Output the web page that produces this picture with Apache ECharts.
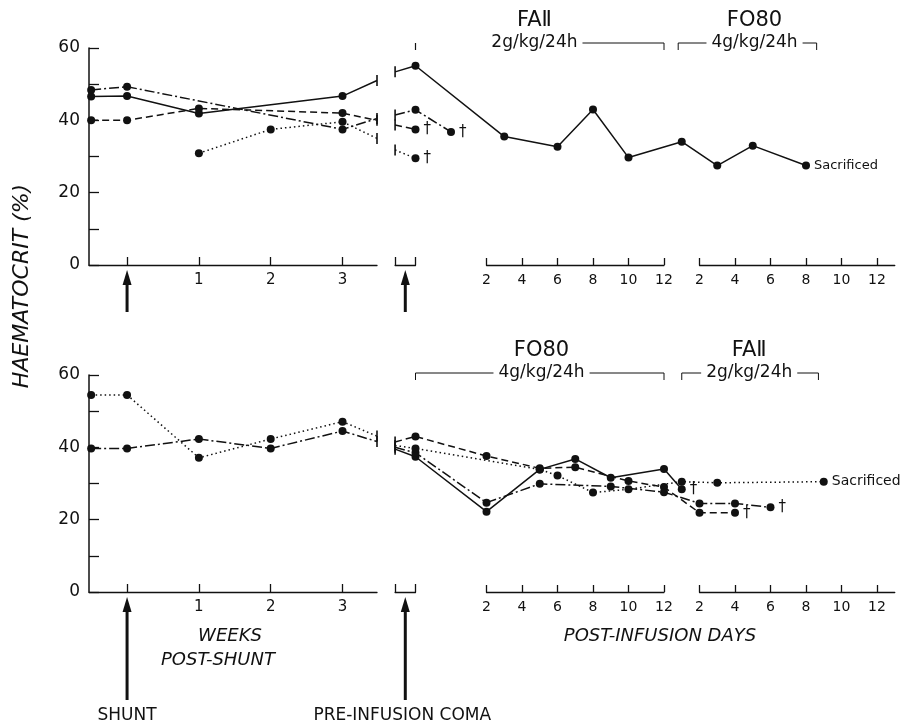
<!DOCTYPE html>
<html>
<head>
<meta charset="utf-8">
<title>Haematocrit</title>
<script src="https://cdn.jsdelivr.net/npm/echarts@6/dist/echarts.min.js"></script>
<style>
  html, body { margin: 0; padding: 0; background: #fff; }
  #chart { width: 912px; height: 728px; }
</style>
</head>
<body>
<div id="chart"></div>
<script>
// weeks post-shunt: -0.5 = pre-shunt baseline, 3.48 = axis break
var topWeekSolid   = [[-0.5, 46.6], [0, 46.7], [1, 41.9], [3, 46.7], [3.48, 51]];
var topWeekDashDot = [[-0.5, 48.4], [0, 49.3], [3, 37.5], [3.48, 40.5]];
var topWeekDashed  = [[-0.5, 40], [0, 40], [1, 43.3], [3, 42], [3.48, 40]];
var topWeekDotted  = [[1, 30.9], [2, 37.5], [3, 39.6], [3.48, 35]];

// post-infusion days on one running scale: -3.15 = axis break, -2 = pre-infusion coma,
// 0..12 first agent, 12..24 second agent
var topDaySolid   = [[-3.15, 53.4], [-2, 55.1], [3, 35.5], [6, 32.7], [8, 43], [10, 29.7], [13, 34.1], [15, 27.5], [17, 33], [20, 27.5]];
var topDayDashDot = [[-3.15, 41.5], [-2, 42.9], [0, 36.8]];
var topDayDashed  = [[-3.15, 38.7], [-2, 37.5]];
var topDayDotted  = [[-3.15, 31.8], [-2, 29.5]];

var botWeekDotted  = [[-0.5, 54.5], [0, 54.5], [1, 37.1], [2, 42.3], [3, 47.1], [3.48, 43.1]];
var botWeekDashDot = [[-0.5, 39.7], [0, 39.7], [1, 42.3], [2, 39.7], [3, 44.5], [3.48, 41.6]];

var botDaySolid   = [[-3.15, 39.5], [-2, 37.4], [2, 22.2], [5, 33.9], [7, 36.8], [9, 31.6], [12, 34], [13, 28.4]];
var botDayDashed  = [[-3.15, 41.5], [-2, 43], [2, 37.6], [5, 34.2], [7, 34.5], [10, 30.7], [12, 29], [14, 21.9], [16, 21.9]];
var botDayDashDot = [[-3.15, 40], [-2, 38.5], [2, 24.7], [5, 29.9], [9, 29.2], [12, 27.6], [14, 24.5], [16, 24.5], [18, 23.4]];
var botDayDotted  = [[-3.15, 40.5], [-2, 39.7], [5, 33.9], [6, 32.2], [8, 27.5], [10, 28.4], [13, 30.5], [15, 30.2], [21, 30.5]];

var weekTicks  = [0, 1, 2, 3];
var weekLabels = [1, 2, 3];
var dayTicks   = [2, 4, 6, 8, 10, 12];

var BREAKS = [3.48, -3.15];

var FONT = '"DejaVu Sans", "Liberation Sans", sans-serif';
var INK = '#111';

// layout
var panelTop = [48, 375];
var panelH = 217;
var DAY0 = 451, DAYPX = 17.75;
function dayLeft(d) { return DAY0 + d * DAYPX; }

var DASH = {
	solid: 'solid',
	dashed: [7, 4],
	dashdot: [10, 3, 2, 3],
	dotted: [1.5, 3]
};

var grids = [], xAxes = [], yAxes = [], series = [];

function hiddenY(gi) {
	return { type: 'value', gridIndex: gi, show: false, min: 0, max: 60 };
}

function tickAxis(gi, min, max, ticks, labels, tickLen, fontSize) {
	return {
		type: 'value', gridIndex: gi, min: min, max: max,
		axisLine: { show: true, onZero: false, lineStyle: { color: INK, width: 1.3 } },
		axisTick: { show: true, inside: true, length: tickLen, customValues: ticks, lineStyle: { color: INK, width: 1.3 } },
		axisLabel: labels ? { show: true, customValues: labels, color: INK, fontFamily: FONT, fontSize: fontSize, margin: 8 } : { show: false },
		splitLine: { show: false }
	};
}

for (var p = 0; p < 2; p++) {
	var t = panelTop[p];
	var g0 = p * 5;
	// A: weeks
	grids.push({ left: 89, top: t, width: 288, height: panelH });
	xAxes.push(tickAxis(g0, -0.53, 3.48, weekTicks, weekLabels, 8, 15));
	yAxes.push({
		type: 'value', gridIndex: g0, min: 0, max: 60, interval: 10,
		axisLine: { show: true, onZero: false, lineStyle: { color: INK, width: 1.5 } },
		axisTick: { show: true, inside: true, length: 10, lineStyle: { color: INK, width: 1.3 } },
		axisLabel: {
			color: INK, fontFamily: FONT, fontSize: 17, margin: 9,
			formatter: function(v) { return v % 20 === 0 ? v : ''; }
		},
		splitLine: { show: false }
	});
	// B: pre-infusion + days, data only
	grids.push({ left: dayLeft(-3.2), top: t, width: (25.5 + 3.2) * DAYPX, height: panelH });
	xAxes.push({ type: 'value', gridIndex: g0 + 1, show: false, min: -3.2, max: 25.5 });
	yAxes.push(hiddenY(g0 + 1));
	// C: pre-infusion bracket
	grids.push({ left: dayLeft(-3.15), top: t, width: 1.15 * DAYPX, height: panelH });
	xAxes.push(tickAxis(g0 + 2, 0, 1, [0, 1], null, 8, 14));
	yAxes.push(hiddenY(g0 + 2));
	// D: first agent days
	grids.push({ left: dayLeft(2), top: t, width: 10 * DAYPX, height: panelH });
	xAxes.push(tickAxis(g0 + 3, 2, 12, dayTicks, dayTicks, 7, 14));
	yAxes.push(hiddenY(g0 + 3));
	// E: second agent days
	grids.push({ left: dayLeft(14), top: t, width: 11 * DAYPX, height: panelH });
	xAxes.push(tickAxis(g0 + 4, 2, 13, dayTicks, dayTicks, 7, 14));
	yAxes.push(hiddenY(g0 + 4));
}

function mk(data, style, axisIdx, endText, endSize) {
	return {
		type: 'line',
		xAxisIndex: axisIdx,
		yAxisIndex: axisIdx,
		clip: false,
		silent: true,
		symbol: 'circle',
		symbolSize: 8,
		showAllSymbol: true,
		lineStyle: { color: INK, width: 1.5, type: DASH[style] },
		itemStyle: { color: INK, borderWidth: 0 },
		emphasis: { disabled: true },
		data: data.map(function(pt, i) {
			var item = { value: pt };
			if (BREAKS.indexOf(pt[0]) >= 0) {
				item.symbol = 'rect';
				item.symbolSize = [1.6, 11];
			}
			if (endText && i === data.length - 1) {
				item.label = {
					show: true, position: 'right', distance: 4,
					formatter: endText, color: INK,
					fontFamily: FONT, fontSize: endSize
				};
			}
			return item;
		})
	};
}

// top panel
series.push(mk(topWeekSolid, 'solid', 0));
series.push(mk(topWeekDashDot, 'dashdot', 0));
series.push(mk(topWeekDashed, 'dashed', 0));
series.push(mk(topWeekDotted, 'dotted', 0));
series.push(mk(topDaySolid, 'solid', 1, 'Sacrificed', 13));
series.push(mk(topDayDashDot, 'dashdot', 1, '†', 15));
series.push(mk(topDayDashed, 'dashed', 1, '†', 15));
series.push(mk(topDayDotted, 'dotted', 1, '†', 15));

// bottom panel
series.push(mk(botWeekDotted, 'dotted', 5));
series.push(mk(botWeekDashDot, 'dashdot', 5));
series.push(mk(botDaySolid, 'solid', 6, '†', 15));
series.push(mk(botDayDashed, 'dashed', 6, '†', 15));
series.push(mk(botDayDashDot, 'dashdot', 6, '†', 15));
series.push(mk(botDayDotted, 'dotted', 6, 'Sacrificed', 14));

var chart = echarts.init(document.getElementById('chart'));
chart.setOption({
	animation: false,
	backgroundColor: '#fff',
	grid: grids,
	xAxis: xAxes,
	yAxis: yAxes,
	series: series
});

// ---- annotations, placed from the axes ----
function px(gi, x, y) { return chart.convertToPixel({ gridIndex: gi }, [x, y]); }

var headers = [
	[{ name: 'FAⅡ', dose: '2g/kg/24h', from: -2, to: 12, mid: 4.7, openLeft: true },
	 { name: 'FO80', dose: '4g/kg/24h', from: 12.8, to: 20.6, mid: 17.1 }],
	[{ name: 'FO80', dose: '4g/kg/24h', from: -2, to: 12, mid: 5.1 },
	 { name: 'FAⅡ', dose: '2g/kg/24h', from: 13, to: 20.7, mid: 16.8 }]
];
var headerOffsets = [[-27, -5], [-24, -2]];
var arrowLen = [47, 108];

function text(x, y, s, font, extra) {
	var st = { text: s, x: 0, y: 0, font: font, fill: INK, align: 'center', verticalAlign: 'middle' };
	if (extra) for (var k in extra) st[k] = extra[k];
	return { type: 'text', x: x, y: y, style: st, z: 100 };
}

function arrow(x, y0, y1) {
	return [
		{ type: 'polygon', shape: { points: [[x, y0], [x - 4.5, y0 + 15], [x + 4.5, y0 + 15]] }, style: { fill: INK }, z: 100 },
		{ type: 'line', shape: { x1: x, y1: y0 + 10, x2: x, y2: y1 }, style: { stroke: INK, lineWidth: 3 }, z: 100 }
	];
}

var els = [];
var yTitle = text(22, 286, 'HAEMATOCRIT (%)', 'italic 22px ' + FONT);
yTitle.rotation = Math.PI / 2;
els.push(yTitle);

for (var p = 0; p < 2; p++) {
	var gA = p * 5, gB = p * 5 + 1, gC = p * 5 + 2;
	var yTop = px(gB, 0, 60)[1];
	var yBase = px(gB, 0, 0)[1];
	var off = headerOffsets[p];

	headers[p].forEach(function(h) {
		var x1 = px(gB, h.from, 0)[0], x2 = px(gB, h.to, 0)[0], xm = px(gB, h.mid, 0)[0];
		var yl = yTop + off[1];
		var pts = h.openLeft ? [[xm, yl], [x2, yl], [x2, yl + 7]] : [[x1, yl + 7], [x1, yl], [x2, yl], [x2, yl + 7]];
		els.push({ type: 'polyline', shape: { points: pts }, style: { stroke: INK, lineWidth: 1, fill: null }, z: 99 });
		if (h.openLeft) {
			els.push({ type: 'line', shape: { x1: x1, y1: yl, x2: x1, y2: yl + 7 }, style: { stroke: INK, lineWidth: 1.2 }, z: 99 });
		}
		els.push(text(xm, yl, h.dose, '17px ' + FONT, { backgroundColor: '#fff', padding: [0, 5] }));
		els.push(text(xm, yTop + off[0], h.name, '21px ' + FONT));
	});

	var xShunt = px(gA, 0, 0)[0];
	var xComa = px(gC, 0.5, 0)[0];
	els = els.concat(arrow(xShunt, yBase + 5, yBase + arrowLen[p]));
	els = els.concat(arrow(xComa, yBase + 5, yBase + arrowLen[p]));
}

var xShuntB = px(5, 0, 0)[0];
var xComaB = px(7, 0.5, 0)[0];
els.push(text(230, 636, 'WEEKS', 'italic 18px ' + FONT));
els.push(text(218, 660, 'POST-SHUNT', 'italic 18px ' + FONT));
els.push(text(660, 636, 'POST-INFUSION DAYS', 'italic 18px ' + FONT));
els.push(text(xShuntB, 716, 'SHUNT', '17px ' + FONT));
els.push(text(xComaB - 3, 716, 'PRE-INFUSION COMA', '17px ' + FONT));

chart.setOption({ graphic: { elements: els } });
</script>
</body>
</html>
